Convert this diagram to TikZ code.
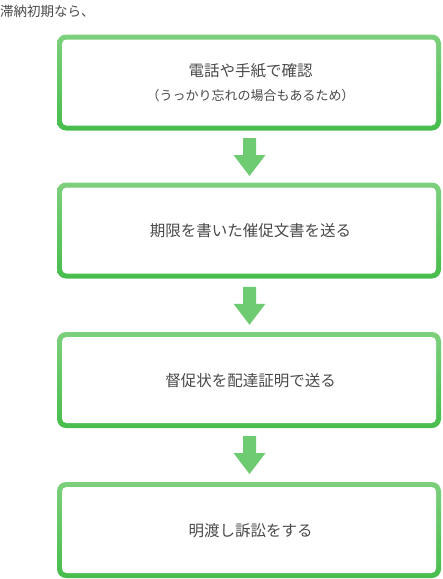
\documentclass[tikz,border=0pt]{standalone}
\usepackage{fontspec}
\setmainfont{Noto Sans CJK JP}
\usetikzlibrary{calc}
\definecolor{txt}{HTML}{4A4A4A}
\definecolor{gtop}{HTML}{7DD07D}
\definecolor{gbot}{HTML}{47BD4C}
\definecolor{arr}{HTML}{6FCB72}
\begin{document}
\begin{tikzpicture}[x=1pt,y=-1pt,
  outerbox/.style={rectangle, rounded corners=9pt, minimum width=384pt, minimum height=96pt,
     top color=gtop, bottom color=gbot, inner sep=0pt},
  innerbox/.style={rectangle, rounded corners=4.5pt, minimum width=374pt, minimum height=86pt,
     fill=white, inner sep=0pt},
  maintext/.style={text=txt, font=\fontsize{15.5}{18}\selectfont, inner sep=0pt},
  smalltext/.style={text=txt, font=\fontsize{13}{16}\selectfont, inner sep=0pt},
  downarrow/.style={fill=arr, draw=none}
]
\useasboundingbox (0,0) rectangle (443,579);
\node[text=txt, font=\fontsize{13.5}{16}\selectfont, anchor=west, inner sep=0pt] (intro) at (0,11) {滞納初期なら、};

\node[outerbox] (o1) at (249,82.5) {};
\node[innerbox] (i1) at (o1.center) {};
\node[maintext] (t1a) at (250.5,71) {電話や手紙で確認};
\node[smalltext] (t1b) at (250.5,96) {（うっかり忘れの場合もあるため）};

\node[outerbox] (o2) at (249,230.5) {};
\node[innerbox] (i2) at (o2.center) {};
\node[maintext] (t2) at (250.5,231) {期限を書いた催促文書を送る};

\node[outerbox] (o3) at (249,380) {};
\node[innerbox] (i3) at (o3.center) {};
\node[maintext] (t3) at (250.5,380.5) {督促状を配達証明で送る};

\node[outerbox] (o4) at (249,530) {};
\node[innerbox] (i4) at (o4.center) {};
\node[maintext] (t4) at (250.5,530.5) {明渡し訴訟をする};

\coordinate (m1) at ($(o1.south)!0.5!(o2.north)+(0.5,0.5)$);
\coordinate (m2) at ($(o2.south)!0.5!(o3.north)+(0.5,0.5)$);
\coordinate (m3) at ($(o3.south)!0.5!(o4.north)+(0.5,0)$);
\foreach \m in {m1,m2,m3}{
  \fill[downarrow] (\m) ++(-6.5,-19) -- ++(13,0) -- ++(0,17) -- ++(9.5,0)
     -- ++(-16,21) -- ++(-16,-21) -- ++(9.5,0) -- cycle;
}
\end{tikzpicture}
\end{document}
